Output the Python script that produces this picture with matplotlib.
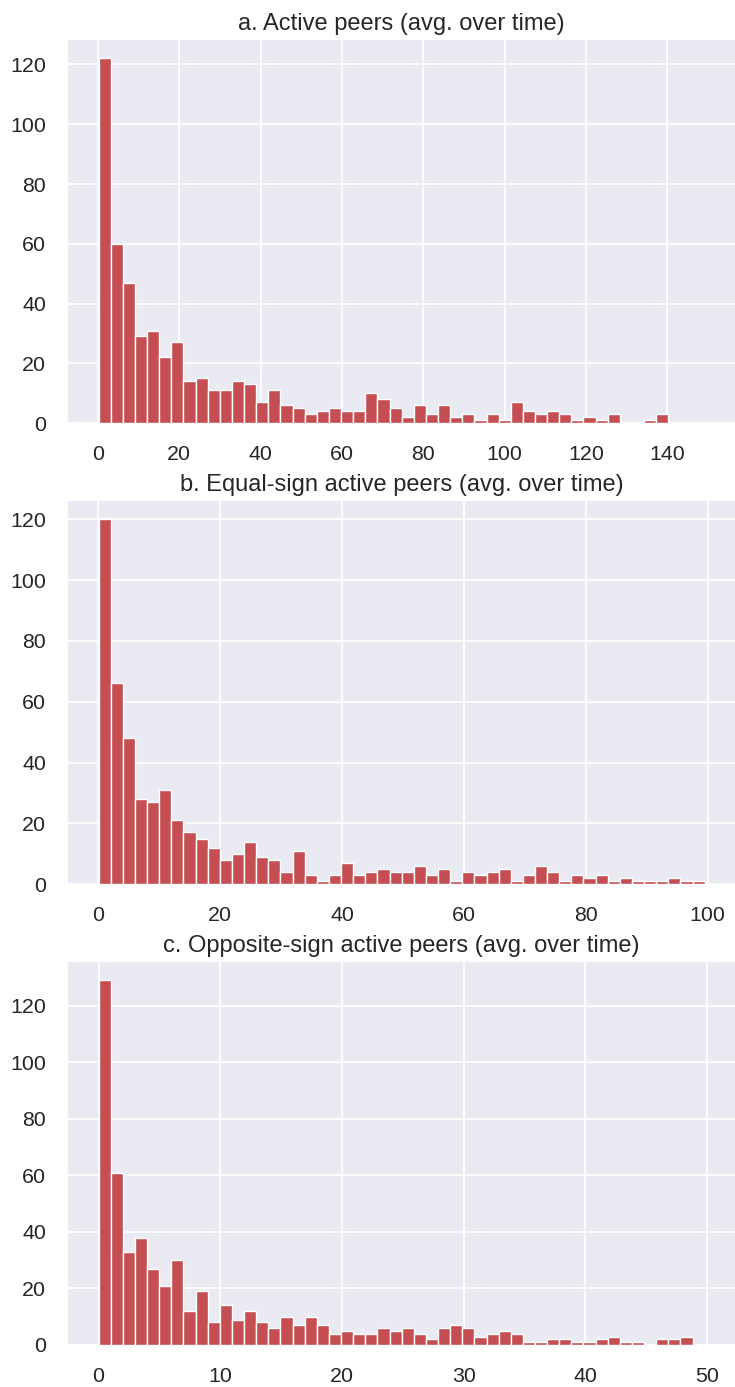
import numpy as np
import matplotlib
matplotlib.use("Agg")
import matplotlib.pyplot as plt

# ---- data (bin counts) ----
titles = [
    "a. Active peers (avg. over time)",
    "b. Equal-sign active peers (avg. over time)",
    "c. Opposite-sign active peers (avg. over time)",
]
ranges = [(0.15, 149.15), (0.05, 99.5), (0.0, 49.8)]
counts_a = [122, 60, 47, 29, 31, 22, 27, 14, 15, 11,
            11, 14, 13, 7, 11, 6, 5, 3, 4, 5,
            4, 4, 10, 8, 5, 2, 6, 3, 6, 2,
            3, 1, 3, 1, 7, 4, 3, 4, 3, 1,
            2, 1, 3, 0, 0, 1, 3, 0, 0, 0]
counts_b = [120, 66, 48, 28, 27, 31, 21, 17, 15, 12,
            8, 10, 14, 9, 8, 4, 11, 3, 1, 3,
            7, 3, 4, 5, 4, 4, 6, 3, 5, 1,
            4, 3, 4, 5, 1, 3, 6, 4, 1, 3,
            2, 3, 1, 2, 1, 1, 1, 2, 1, 1]
counts_c = [129, 61, 33, 38, 27, 21, 30, 12, 19, 8,
            14, 9, 12, 8, 6, 10, 7, 10, 7, 4,
            5, 4, 4, 6, 5, 6, 4, 2, 6, 7,
            6, 3, 4, 5, 4, 1, 1, 2, 2, 1,
            1, 2, 3, 1, 1, 0, 2, 2, 3, 0]
xticks = [list(range(0, 141, 20)), list(range(0, 101, 20)), list(range(0, 51, 10))]
yticks = [0, 20, 40, 60, 80, 100, 120]

all_counts = [counts_a, counts_b, counts_c]

plt.rcParams['font.family'] = ['Liberation Sans', 'DejaVu Sans']
BG = '#EAEAF2'
RED = '#C44E52'
TXT = '#262626'

W, H = 735, 1387
fig = plt.figure(figsize=(W / 100, H / 100), dpi=100)

left = 68.3 / W
width = (735 - 68.3) / W
bottoms_px = [423.2, 884.1, 1345.0]
height = 383.0 / H

for i in range(3):
    ax = fig.add_axes([left, (H - bottoms_px[i]) / H, width, height])
    ax.set_facecolor(BG)
    counts = np.array(all_counts[i])
    lo, hi = ranges[i]
    edges = np.linspace(lo, hi, len(counts) + 1)
    ax.bar(edges[:-1], counts, width=np.diff(edges), align='edge',
           color=RED, edgecolor='white', linewidth=1.0, zorder=2)
    ax.margins(x=0.05, y=0.05)
    ax.set_ylim(0, counts.max() * 1.05)
    ax.set_xticks(xticks[i])
    ax.set_yticks(yticks)
    ax.grid(True, color='white', linewidth=1.3, zorder=0)
    ax.set_axisbelow(True)
    for s in ax.spines.values():
        s.set_visible(False)
    ax.tick_params(axis='both', length=0, pad=15.8, labelsize=15.4, labelcolor=TXT)
    ax.set_title(titles[i], fontsize=17, color=TXT, pad=7)

fig.savefig('out.png', dpi=100)
